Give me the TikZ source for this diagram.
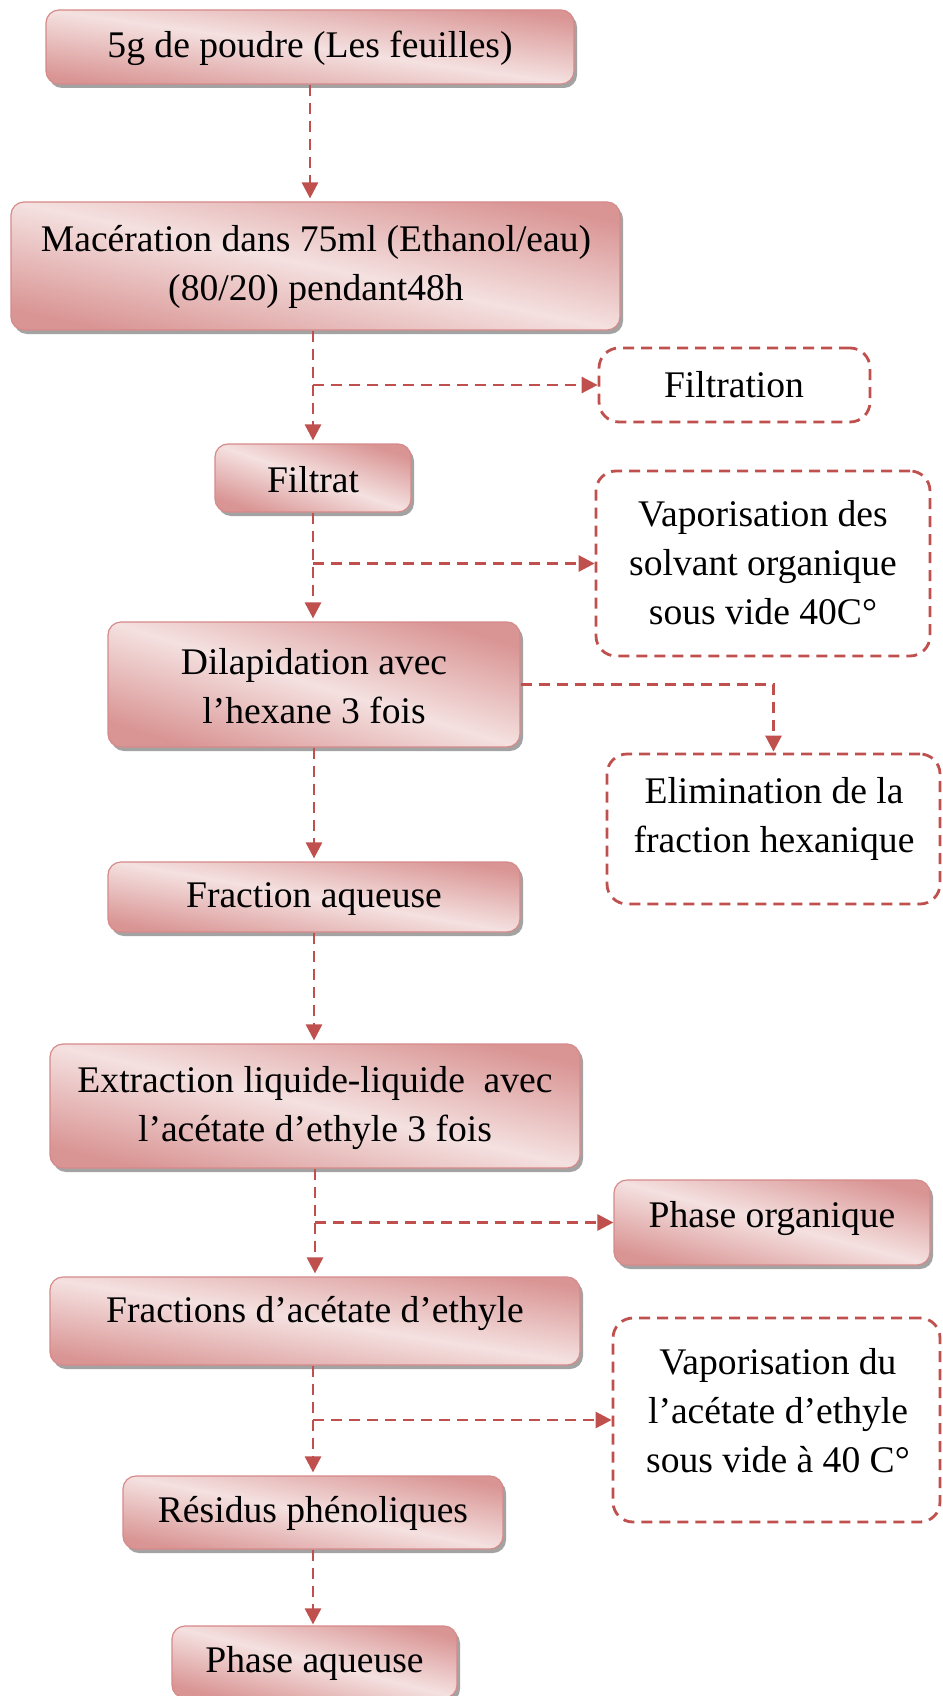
\documentclass[tikz,border=0pt]{standalone}
\usepackage{fontspec}
\setmainfont{Liberation Serif}
\usetikzlibrary{arrows.meta,shadows}
\definecolor{boxdark}{HTML}{D99594}
\definecolor{boxlight}{HTML}{F4E1E0}
\definecolor{boxline}{HTML}{D68A8A}
\definecolor{arrred}{HTML}{C0504D}
\definecolor{shadowgray}{HTML}{A3A3A3}
\begin{document}
\begin{tikzpicture}[x=1pt,y=-1pt,
 solidbox/.style={draw=boxline, line width=1.2pt, rounded corners=13pt,
   top color=boxdark, bottom color=boxdark, middle color=boxlight, shading angle=#1,
   drop shadow={shadow xshift=3pt, shadow yshift=-4pt, fill=shadowgray, opacity=1},
   inner sep=0pt},
 dashbox/.style={draw=arrred, line width=2.8pt, dash pattern=on 11pt off 7pt,
   rounded corners=20pt, fill=white, inner sep=0pt},
 txt/.style={font=\fontsize{37.6}{49}\selectfont, align=center, inner sep=0pt},
 arr/.style={draw=arrred, line width=2.8pt, dash pattern=on 11pt off 7pt,
   -{Triangle[length=16pt,width=16pt]}},
]
\fill[white] (0,0) rectangle (942,1696);
\useasboundingbox (0,0) rectangle (942,1696);
\clip (0,0) rectangle (942,1696);

% boxes
\node[solidbox=-8, minimum width=528pt, minimum height=74pt] (b1) at (310,47) {};
\node[solidbox=-12, minimum width=609pt, minimum height=128pt] (b2) at (315.5,266) {};
\node[dashbox, minimum width=271pt, minimum height=74pt] (b3) at (734.5,385) {};
\node[solidbox=-19, minimum width=196pt, minimum height=68pt] (b4) at (313,478) {};
\node[dashbox, minimum width=334pt, minimum height=185pt] (b5) at (763,563.5) {};
\node[solidbox=-17, minimum width=412pt, minimum height=125pt] (b6) at (314,684.5) {};
\node[dashbox, minimum width=333pt, minimum height=150pt] (b7) at (773.5,829) {};
\node[solidbox=-10, minimum width=412pt, minimum height=70pt] (b8) at (314,897) {};
\node[solidbox=-13, minimum width=530pt, minimum height=124pt] (b9) at (315,1106) {};
\node[solidbox=-15, minimum width=316pt, minimum height=85pt] (b10) at (772,1222.5) {};
\node[solidbox=-9, minimum width=530pt, minimum height=88pt] (b11) at (315,1321) {};
\node[dashbox, minimum width=327pt, minimum height=204pt] (b12) at (776.5,1420) {};
\node[solidbox=-11, minimum width=380pt, minimum height=73pt] (b13) at (313,1512.5) {};
\node[solidbox=-14, minimum width=285pt, minimum height=72pt] (b14) at (314.5,1662) {};

% texts
\node[txt] (t1) at (310,48) {5g de poudre (Les feuilles)};
\node[txt] (t2) at (316,267) {Macération dans 75ml (Ethanol/eau)\\(80/20) pendant48h};
\node[txt] (t3) at (734,385) {Filtration};
\node[txt] (t4) at (313,480) {Filtrat};
\node[txt] (t5) at (763,563) {Vaporisation des\\solvant organique\\sous vide 40C°};
\node[txt] (t6) at (314,686) {Dilapidation avec\\l’hexane 3 fois};
\node[txt] (t7) at (774,819) {Elimination de la\\fraction hexanique};
\node[txt] (t8) at (314,899) {Fraction aqueuse};
\node[txt] (t9) at (315,1108) {Extraction liquide-liquide\ \ avec\\l’acétate d’ethyle 3 fois};
\node[txt] (t10) at (772,1218) {Phase organique};
\node[txt] (t11) at (315,1313) {Fractions d’acétate d’ethyle};
\node[txt] (t12) at (778,1411) {Vaporisation du\\l’acétate d’ethyle\\sous vide à 40 C°};
\node[txt] (t13) at (313,1513) {Résidus phénoliques};
\node[txt] (t14) at (314.5,1663) {Phase aqueuse};

% connectors
\draw[arr, shorten >=3pt] (b1.south) -- (b1.south |- b2.north);
\draw[arr, shorten >=3pt] (b4.north |- b2.south) -- (b4.north);
\draw[arr] (b4.north |- b3.west) -- (b3.west);
\draw[arr, shorten >=3pt] (b4.south) -- (b4.south |- b6.north);
\draw[arr] (b4.south |- b5.west) -- (b5.west);
\draw[arr, shorten >=3pt] (b6.south) -- (b8.north);
\draw[arr, shorten >=1pt] (b6.east) -| (b7.north);
\draw[arr, shorten >=3pt] (b8.south) -- (b8.south |- b9.north);
\draw[arr, shorten >=3pt] (b9.south) -- (b11.north);
\draw[arr] (b9.south |- b10.west) -- (b10.west);
\draw[arr, shorten >=3pt] (b13.north |- b11.south) -- (b13.north);
\draw[arr] (b13.north |- b12.west) -- (b12.west);
\draw[arr, shorten >=1pt] (b13.south) -- (b13.south |- b14.north);
\end{tikzpicture}
\end{document}
